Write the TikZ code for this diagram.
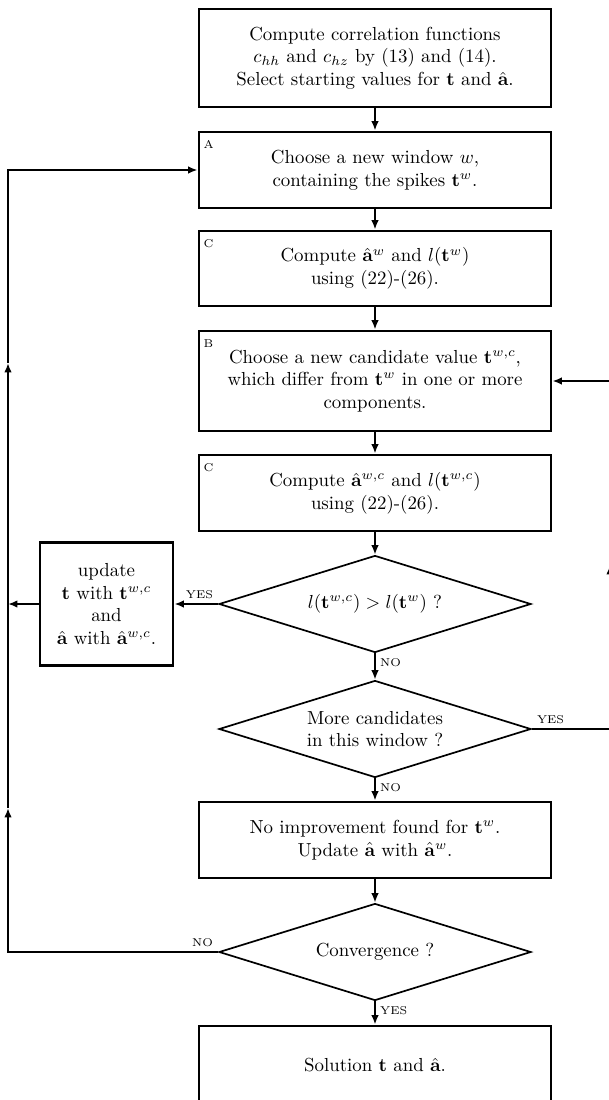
\documentclass[tikz,border=0pt]{standalone}
\usepackage{amssymb,amsmath}
\usetikzlibrary{shapes.geometric,arrows.meta}
\newcommand{\pxu}{0.53pt}
\newcommand{\tagfont}{\fontsize{6}{7}\selectfont}

\begin{document}
\begin{tikzpicture}[x=0.53pt,y=-0.53pt,
    box/.style={rectangle,draw,line width=1.5pt,align=center,inner sep=2pt,minimum width=352*\pxu},
    test/.style={diamond,draw,line width=0.9pt,align=center,aspect=3.2,inner sep=0pt,minimum width=312*\pxu,minimum height=97*\pxu},
    tag/.style={font=\tagfont,inner sep=2pt},
    corner/.style={tag,anchor=north west,xshift=1pt,yshift=-3pt},
    conn/.style={line width=1.5pt,-{Latex[length=5pt,width=4pt]}}]

\useasboundingbox (0,0) rectangle (608,1100);

\node[box,minimum height=98*\pxu] (start) at (375,58) {Compute correlation functions\\ $c_{hh}$ and $c_{hz}$ by (13) and (14).\\ Select starting values for $\mathbf{t}$ and $\hat{\mathbf{a}}$.};
\node[box,minimum height=76*\pxu,label={[corner]north west:A}] (win) at (375,170) {Choose a new window $w$,\\ containing the spikes $\mathbf{t}^w$.};
\node[box,minimum height=75*\pxu,label={[corner]north west:C}] (comp1) at (375,268.5) {Compute $\hat{\mathbf{a}}^w$ and $l(\mathbf{t}^w)$\\ using (22)-(26).};
\node[box,minimum height=100*\pxu,label={[corner]north west:B}] (cand) at (375,381) {Choose a new candidate value $\mathbf{t}^{w,c}$,\\ which differ from $\mathbf{t}^w$ in one or more\\ components.};
\node[box,minimum height=76*\pxu,label={[corner]north west:C}] (comp2) at (375,493) {Compute $\hat{\mathbf{a}}^{w,c}$ and $l(\mathbf{t}^{w,c})$\\ using (22)-(26).};
\node[test] (test1) at (375,604) {$l(\mathbf{t}^{w,c})>l(\mathbf{t}^w)$ ?};
\node[box,minimum width=133*\pxu,minimum height=123*\pxu] (upd) at (106.5,604) {update\\ $\mathbf{t}$ with $\mathbf{t}^{w,c}$\\ and\\ $\hat{\mathbf{a}}$ with $\hat{\mathbf{a}}^{w,c}$.};
\node[test] (test2) at (375,729) {More candidates\\ in this window ?};
\node[box,minimum height=76*\pxu] (noimp) at (375,840) {No improvement found for $\mathbf{t}^w$.\\ Update $\hat{\mathbf{a}}$ with $\hat{\mathbf{a}}^w$.};
\node[test] (test3) at (375,952) {Convergence ?};
\node[box,minimum height=78*\pxu] (sol) at (375,1065) {Solution $\mathbf{t}$ and $\hat{\mathbf{a}}$.};

\coordinate (lup1) at (8,808);
\coordinate (lup2) at (8,363);
\coordinate (rup) at (610,565);

\draw[conn] (start) -- (win);
\draw[conn] (win) -- (comp1);
\draw[conn] (comp1) -- (cand);
\draw[conn] (cand) -- (comp2);
\draw[conn] (comp2) -- (test1);
\draw[conn] (test1.west) node[tag,anchor=south east] {YES} -- (upd.east);
\draw[conn] (upd.west) -- (upd.west -| lup1);
\draw[conn] (test1.south) node[tag,anchor=north west] {NO} -- (test2.north);
\draw[conn] (test2.south) node[tag,anchor=north west] {NO} -- (noimp);
\draw[conn] (test2.east) node[tag,anchor=south west] {YES} -| (rup);
\draw[conn] (rup) |- (cand.east);
\draw[conn] (noimp) -- (test3);
\draw[conn] (test3.south) node[tag,anchor=north west] {YES} -- (sol);
\draw[conn] (test3.west) node[tag,anchor=south east] {NO} -| (lup1);
\draw[conn] (lup1) -- (lup2);
\draw[conn] (lup2) |- (win.west);
\end{tikzpicture}
\end{document}
